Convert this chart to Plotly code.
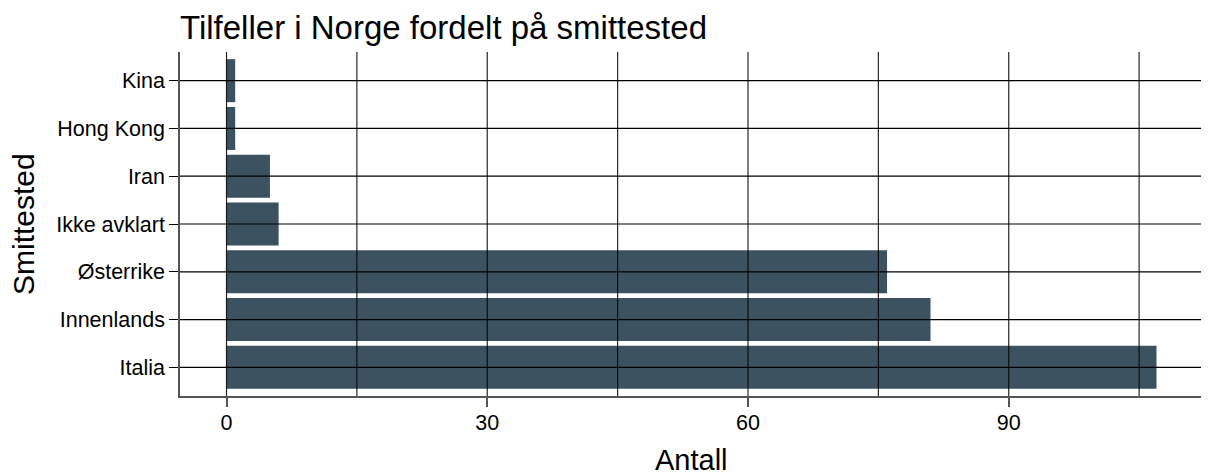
import plotly.graph_objects as go

categories = ["Italia", "Innenlands", "Østerrike", "Ikke avklart", "Iran", "Hong Kong", "Kina"]
values = [107, 81, 76, 6, 5, 1, 1]
x_tickvals = [0, 30, 60, 90]
x_gridvals = [0, 15, 30, 45, 60, 75, 90, 105]

BAR = "#3C5260"
FONT = "Liberation Sans, Arial, sans-serif"

# page body has an 8px default margin; size the figure to compensate
W, H = 1201, 467

fig = go.Figure()
fig.add_trace(go.Bar(
    x=values, y=categories, orientation="h",
    marker=dict(color=BAR, line=dict(width=0)),
    width=0.9,
))

shapes = []
for v in x_gridvals:
    shapes.append(dict(type="line", xref="x", yref="paper", x0=v, x1=v, y0=0, y1=1,
                       line=dict(color="rgba(0,0,0,0.85)", width=1.2), layer="above"))
for c in categories:
    shapes.append(dict(type="line", xref="paper", yref="y", x0=0, x1=1, y0=c, y1=c,
                       line=dict(color="black", width=1.2), layer="above"))

annotations = [
    dict(text="Antall", xref="paper", yref="paper", x=0.5, y=0, xanchor="center",
         yanchor="middle", yshift=-64, showarrow=False,
         font=dict(size=29, family=FONT, color="black")),
    dict(text="Smittested", xref="paper", yref="paper", x=0, y=0.5, xanchor="center",
         yanchor="middle", xshift=-157, textangle=-90, showarrow=False,
         font=dict(size=30, family=FONT, color="black")),
]

fig.update_layout(
    width=W, height=H,
    margin=dict(l=172, r=6, t=44, b=79),
    paper_bgcolor="white", plot_bgcolor="white",
    font=dict(family=FONT, color="black"),
    showlegend=False,
    bargap=0.1,
    title=dict(text="Tilfeller i Norge fordelt på smittested", x=172/W, xanchor="left",
               xref="container", y=1 - 19/H, yanchor="middle",
               font=dict(size=33, family=FONT, color="black")),
    shapes=shapes,
    annotations=annotations,
    xaxis=dict(range=[-5.35, 112.35], tickvals=x_tickvals, showgrid=False, zeroline=False,
               automargin=False,
               showline=True, linecolor="#555555", linewidth=1.5,
               ticks="outside", ticklen=9, tickcolor="#555555", tickwidth=1.5,
               ticklabelstandoff=-3,
               tickfont=dict(size=21.5, color="black")),
    yaxis=dict(range=[-0.6, 6.6], showgrid=False, zeroline=False, automargin=False,
               categoryorder="array", categoryarray=categories,
               showline=True, linecolor="#555555", linewidth=1.5,
               ticks="outside", ticklen=9, tickcolor="black", tickwidth=1.2,
               tickfont=dict(size=21.5, color="black")),
)

fig.write_html("out.html")
